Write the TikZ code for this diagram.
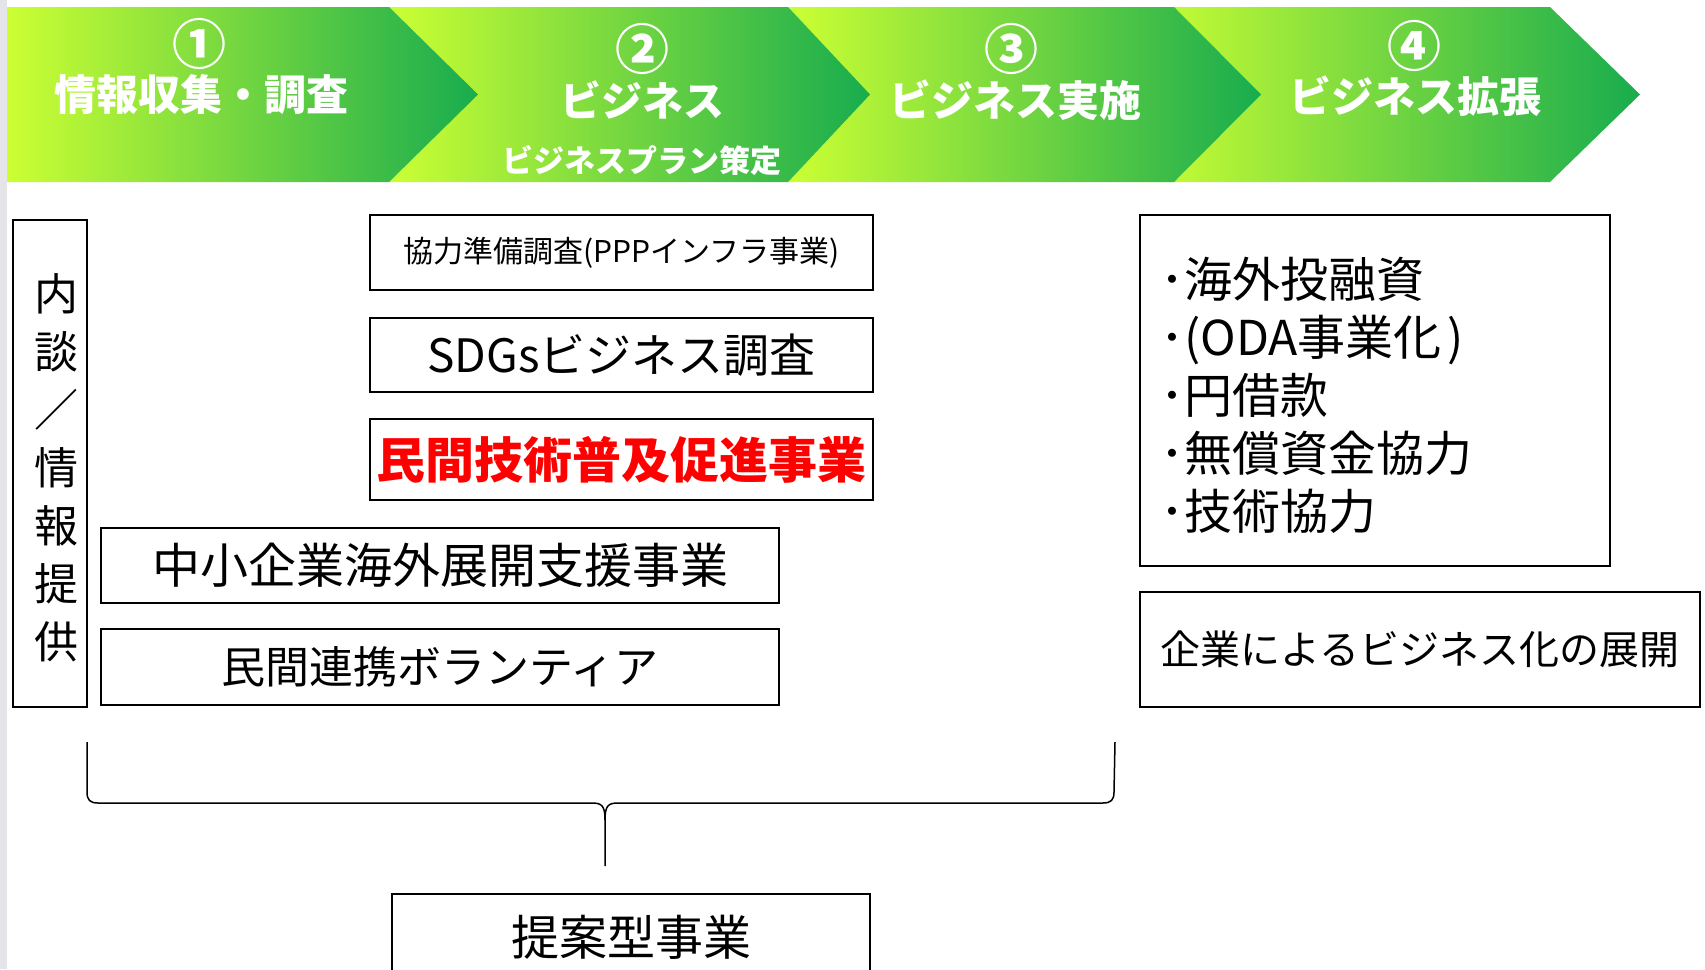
\documentclass[tikz,border=0pt]{standalone}
\usepackage{fontspec}
\setmainfont{Noto Sans CJK JP}
\definecolor{chevronlight}{RGB}{204,255,51}
\definecolor{chevrondark}{RGB}{24,172,78}
\definecolor{stripgray}{RGB}{228,228,233}
\definecolor{alertred}{RGB}{255,0,0}

\begin{document}
\begin{tikzpicture}
[x=1pt,y=-1pt,
  chevrondecorate/.style={left color=chevronlight,right color=chevrondark},%
  headdecorate/.style={text=white,inner sep=0pt,font=\bfseries\fontsize{#1pt}{#1pt}\selectfont},%
  boxdecorate/.style={draw,line width=1.5pt,inner sep=0pt,font=\fontsize{#1pt}{#1pt}\selectfont},%
  bracedecorate/.style={line width=1.5pt}]
\useasboundingbox (0,0) rectangle (1705,969);
\clip (0,0) rectangle (1705,969);
\fill[stripgray] (0,0) rectangle (7,969);
%% chevrons of the four steps, last one first
\foreach \xl/\xb/\xt in {1140/1550/1640, 788/1174/1261, 389/788/870, 7/389/478}
{
  \shade[chevrondecorate] (\xl,7) -- (\xb,7) -- (\xt,94.5) -- (\xb,182) -- (\xl,182) -- cycle;
}
%% step titles
\node (stepOneNum) at (199,44) [headdecorate=54] {①};
\node (stepOne) at (201,95) [headdecorate=42] {情報収集・調査};
\node (stepTwoNum) at (642,49) [headdecorate=54] {②};
\node (stepTwo) at (642,100) [headdecorate=41] {ビジネス};
\node (stepTwoSub) at (642,161) [headdecorate=31] {ビジネスプラン策定};
\node (stepThreeNum) at (1011,49) [headdecorate=54] {③};
\node (stepThree) at (1015,100) [headdecorate=42] {ビジネス実施};
\node (stepFourNum) at (1414,46) [headdecorate=54] {④};
\node (stepFour) at (1415,96) [headdecorate=42] {ビジネス拡張};
%% boxes
\node (talk) at (50,463.5) [boxdecorate=44,minimum width=74pt,minimum height=487pt] {};
\node (talkText) at (56,468) [align=center,inner sep=0pt,font=\fontsize{44pt}{58pt}\selectfont]
  {内\\談\\／\\情\\報\\提\\供};
\node (prep) at (621.5,252.5) [boxdecorate=30,minimum width=503pt,minimum height=75pt]
  {協力準備調査(PPPインフラ事業)};
\node (sdgs) at (621.5,355) [boxdecorate=46,minimum width=503pt,minimum height=74pt]
  {SDGsビジネス調査};
\node (tech) at (621.5,459.5) [boxdecorate=48,minimum width=503pt,minimum height=81pt,
  text=alertred,font=\bfseries\fontsize{49pt}{49pt}\selectfont] {民間技術普及促進事業};
\node (sme) at (440,565.5) [boxdecorate=48,minimum width=678pt,minimum height=75pt]
  {中小企業海外展開支援事業};
\node (volunteer) at (440,667) [boxdecorate=44,minimum width=678pt,minimum height=76pt]
  {民間連携ボランティア};
\node (fund) at (1375,390.5) [boxdecorate=48,minimum width=470pt,minimum height=351pt] {};
\node (fundList) at (1160,395) [anchor=west,align=left,inner sep=0pt,
  font=\fontsize{48pt}{58pt}\selectfont]
  {･海外投融資\\･(ODA事業化\hspace{6pt})\\･円借款\\･無償資金協力\\･技術協力};
\node (company) at (1420,649.5) [boxdecorate=40,minimum width=560pt,minimum height=115pt]
  {企業によるビジネス化の展開};
\node (proposal) at (631,937) [boxdecorate=48,minimum width=478pt,minimum height=86pt]
  {提案型事業};
%% brace
\coordinate (braceL) at (87,742);
\coordinate (braceR) at (1115,742);
\coordinate (braceTip) at (605,866);
\draw[bracedecorate] (braceL) -- (87,792) .. controls (87,800) and (90,803) .. (98,803)
  -- (592,803) .. controls (602,803) and (605,806) .. (605,820) -- (braceTip);
\draw[bracedecorate] (braceR) -- (1114,792) .. controls (1114,800) and (1111,803) .. (1103,803)
  -- (618,803) .. controls (608,803) and (605,806) .. (605,820);
\end{tikzpicture}
\end{document}
